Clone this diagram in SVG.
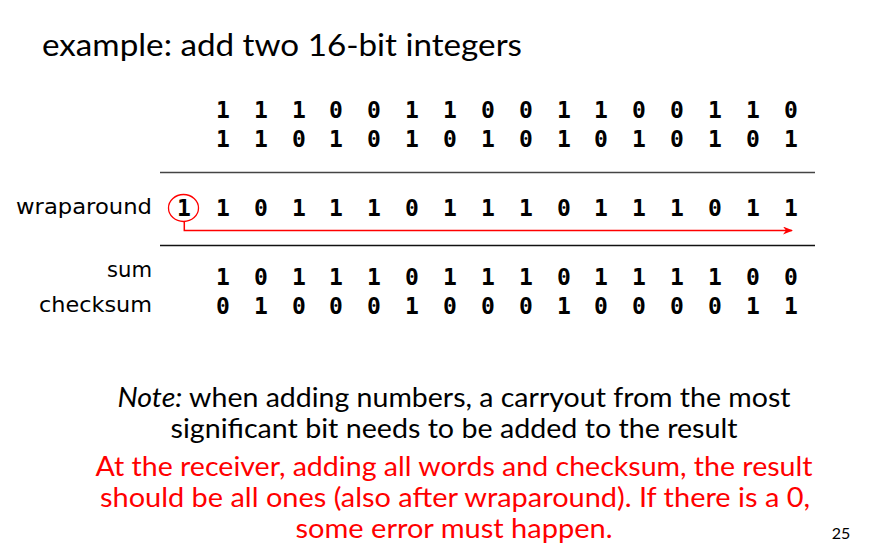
<svg xmlns="http://www.w3.org/2000/svg" width="889" height="556" viewBox="0 0 889 556">
<style>
.bits{font-family:"DejaVu Sans Mono","Liberation Mono",monospace;font-weight:bold;font-size:23px;fill:#000;text-anchor:middle}
.lbl{font-family:"DejaVu Sans","Liberation Sans",sans-serif;font-size:22px;fill:#000;text-anchor:end}
.title{font-family:Lato,"Open Sans",sans-serif;font-size:30px;fill:#000}
.note{font-family:Lato,"Open Sans",sans-serif;font-size:27px;fill:#000;text-anchor:middle}
.red{fill:#ff0000}
.rule{stroke-width:1.5}
</style>
<defs>
<marker id="ah" markerWidth="10" markerHeight="8" refX="9" refY="4" orient="auto" markerUnits="userSpaceOnUse">
<path d="M0,0 L10,4 L0,8 L3,4 Z" fill="#ff0000"/>
</marker>
</defs>
<rect width="889" height="556" fill="#fff"/>
<text class="title" x="42" y="56" textLength="480" lengthAdjust="spacingAndGlyphs">example: add two 16-bit integers</text>
<g id="row1" class="bits">
<text x="223" y="118">1</text><text x="261" y="118">1</text><text x="299" y="118">1</text><text x="336" y="118">0</text><text x="374" y="118">0</text><text x="412" y="118">1</text><text x="450" y="118">1</text><text x="488" y="118">0</text><text x="526" y="118">0</text><text x="564" y="118">1</text><text x="601" y="118">1</text><text x="639" y="118">0</text><text x="677" y="118">0</text><text x="715" y="118">1</text><text x="753" y="118">1</text><text x="791" y="118">0</text>
</g>
<g id="row2" class="bits">
<text x="223" y="147">1</text><text x="261" y="147">1</text><text x="299" y="147">0</text><text x="336" y="147">1</text><text x="374" y="147">0</text><text x="412" y="147">1</text><text x="450" y="147">0</text><text x="488" y="147">1</text><text x="526" y="147">0</text><text x="564" y="147">1</text><text x="601" y="147">0</text><text x="639" y="147">1</text><text x="677" y="147">0</text><text x="715" y="147">1</text><text x="753" y="147">0</text><text x="791" y="147">1</text>
</g>
<line class="rule" x1="160" y1="172.5" x2="815" y2="172.5" stroke="#444"/>
<g id="wraparound">
<text class="lbl" x="152" y="214" textLength="136" lengthAdjust="spacingAndGlyphs">wraparound</text>
<ellipse cx="183.5" cy="208" rx="15" ry="13.5" fill="none" stroke="#ff0000" stroke-width="1.3"/>
<g class="bits">
<text x="184" y="216">1</text><text x="223" y="216">1</text><text x="261" y="216">0</text><text x="299" y="216">1</text><text x="336" y="216">1</text><text x="374" y="216">1</text><text x="412" y="216">0</text><text x="450" y="216">1</text><text x="488" y="216">1</text><text x="526" y="216">1</text><text x="564" y="216">0</text><text x="601" y="216">1</text><text x="639" y="216">1</text><text x="677" y="216">1</text><text x="715" y="216">0</text><text x="753" y="216">1</text><text x="791" y="216">1</text>
</g>
</g>
<g id="connectors">
<polyline points="184.3,221.5 184.3,230.5 792,230.5" fill="none" stroke="#ff0000" stroke-width="1.5" marker-end="url(#ah)"/>
</g>
<line class="rule" x1="160" y1="245.5" x2="815" y2="245.5" stroke="#111"/>
<g id="sum">
<text class="lbl" x="152" y="277" textLength="45" lengthAdjust="spacingAndGlyphs">sum</text>
<g class="bits">
<text x="223" y="285">1</text><text x="261" y="285">0</text><text x="299" y="285">1</text><text x="336" y="285">1</text><text x="374" y="285">1</text><text x="412" y="285">0</text><text x="450" y="285">1</text><text x="488" y="285">1</text><text x="526" y="285">1</text><text x="564" y="285">0</text><text x="601" y="285">1</text><text x="639" y="285">1</text><text x="677" y="285">1</text><text x="715" y="285">1</text><text x="753" y="285">0</text><text x="791" y="285">0</text>
</g>
</g>
<g id="checksum">
<text class="lbl" x="152" y="312" textLength="113" lengthAdjust="spacingAndGlyphs">checksum</text>
<g class="bits">
<text x="223" y="314">0</text><text x="261" y="314">1</text><text x="299" y="314">0</text><text x="336" y="314">0</text><text x="374" y="314">0</text><text x="412" y="314">1</text><text x="450" y="314">0</text><text x="488" y="314">0</text><text x="526" y="314">0</text><text x="564" y="314">1</text><text x="601" y="314">0</text><text x="639" y="314">0</text><text x="677" y="314">0</text><text x="715" y="314">0</text><text x="753" y="314">1</text><text x="791" y="314">1</text>
</g>
</g>
<g id="notes">
<text class="note" x="454" y="407" textLength="673" lengthAdjust="spacingAndGlyphs"><tspan font-style="italic">Note:</tspan> when adding numbers, a carryout from the most</text>
<text class="note" x="454" y="438" textLength="567" lengthAdjust="spacingAndGlyphs">significant bit needs to be added to the result</text>
<text class="note red" x="454" y="476" textLength="717" lengthAdjust="spacingAndGlyphs">At the receiver, adding all words and checksum, the result</text>
<text class="note red" x="455" y="507" textLength="710" lengthAdjust="spacingAndGlyphs">should be all ones (also after wraparound). If there is a 0,</text>
<text class="note red" x="454" y="538" textLength="317" lengthAdjust="spacingAndGlyphs">some error must happen.</text>
<text x="841" y="539" font-family="Lato,'Open Sans',sans-serif" font-size="16" text-anchor="middle" fill="#000">25</text>
</g>
</svg>
